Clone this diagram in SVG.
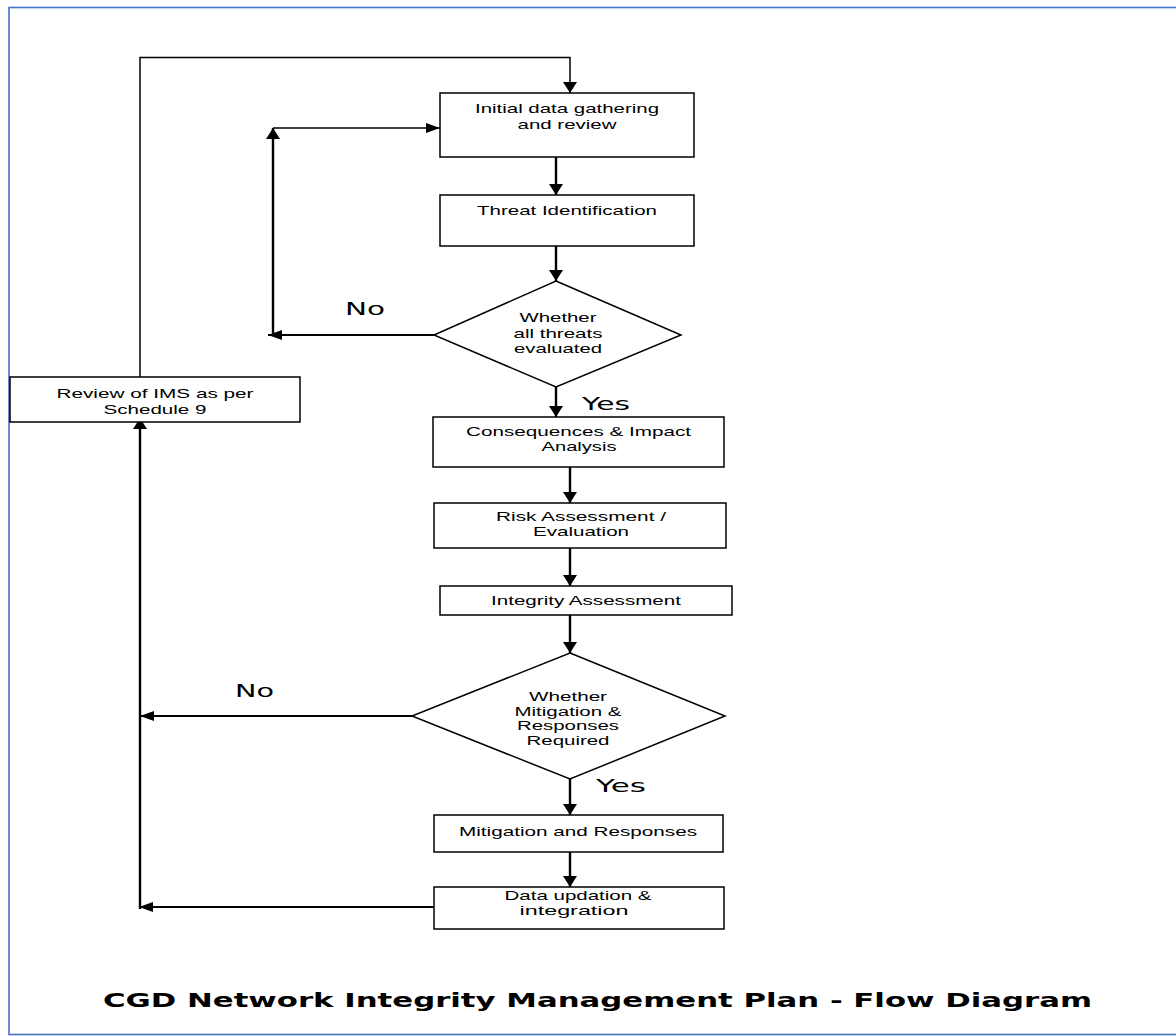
<svg xmlns="http://www.w3.org/2000/svg" width="1176" height="1036" viewBox="0 0 1176 1036">
  <style>
    .frame { fill: none; stroke: #4472C4; stroke-width: 1.6; }
    .box { fill: #ffffff; stroke: #000000; stroke-width: 1.5; }
    .lbl { font-family: "Liberation Sans", Arial, sans-serif; font-size: 13.5px; fill: #000000; text-anchor: middle; }
    .dlbl { font-family: "Liberation Sans", Arial, sans-serif; font-size: 13px; fill: #000000; text-anchor: middle; }
    .dlbl2 { font-family: "Liberation Sans", Arial, sans-serif; font-size: 12.5px; fill: #000000; text-anchor: middle; }
    .yn { font-family: "DejaVu Sans", "Liberation Sans", sans-serif; font-size: 18px; fill: #000000; }
    .title { font-family: "DejaVu Sans", "Liberation Sans", sans-serif; font-size: 19px; font-weight: bold; fill: #000000; }
    .cv { fill: none; stroke: #000000; stroke-width: 2.4; }
    .ch { fill: none; stroke: #000000; stroke-width: 1.8; }
    .thin { fill: none; stroke: #000000; stroke-width: 1.5; }
  </style>
  <defs>
    <!-- vertical arrowheads are short and wide, horizontal ones long and narrow -->
    <marker id="arrV" markerUnits="userSpaceOnUse" markerWidth="12" markerHeight="15" refX="11" refY="7" orient="auto">
      <path d="M0,0 L11,7 L0,14 z" fill="#000000"/>
    </marker>
    <marker id="arrH" markerUnits="userSpaceOnUse" markerWidth="15" markerHeight="11" refX="14" refY="5" orient="auto">
      <path d="M0,0 L14,5 L0,10 z" fill="#000000"/>
    </marker>
  </defs>

  <rect class="frame" x="9" y="7.5" width="1190" height="1027"/>

  <!-- connectors -->
  <g id="connectors">
    <path class="thin" d="M140,377 V57.5 H570 V93" marker-end="url(#arrV)"/>
    <path class="cv" d="M556,157 V195" marker-end="url(#arrV)"/>
    <path class="cv" d="M556,246 V281" marker-end="url(#arrV)"/>
    <path class="ch" d="M434,335 H268" marker-end="url(#arrH)"/>
    <path class="cv" d="M273,336 V128" marker-end="url(#arrV)"/>
    <path class="thin" d="M273,128 H440" marker-end="url(#arrH)"/>
    <path class="cv" d="M556,387 V417" marker-end="url(#arrV)"/>
    <path class="cv" d="M570,467 V503" marker-end="url(#arrV)"/>
    <path class="cv" d="M570,548 V586" marker-end="url(#arrV)"/>
    <path class="cv" d="M570,615 V653" marker-end="url(#arrV)"/>
    <path class="ch" d="M412,716 H140" marker-end="url(#arrH)"/>
    <path class="cv" d="M570,779 V815" marker-end="url(#arrV)"/>
    <path class="cv" d="M570,852 V887" marker-end="url(#arrV)"/>
    <path class="ch" d="M434,907 H139" marker-end="url(#arrH)"/>
    <path class="cv" d="M140,909 V418" marker-end="url(#arrV)"/>
    <text class="yn" x="345" y="315" textLength="40" lengthAdjust="spacingAndGlyphs">No</text>
    <text class="yn" x="582" y="410" textLength="48" lengthAdjust="spacingAndGlyphs">Yes</text>
    <text class="yn" x="235" y="697" textLength="39" lengthAdjust="spacingAndGlyphs">No</text>
    <text class="yn" x="596" y="792" textLength="50" lengthAdjust="spacingAndGlyphs">Yes</text>
  </g>

  <g id="initial-data">
    <rect class="box" x="440" y="93" width="254" height="64"/>
    <text class="lbl" x="567" y="113" textLength="184" lengthAdjust="spacingAndGlyphs">Initial data gathering</text>
    <text class="lbl" x="567" y="128.5" textLength="99" lengthAdjust="spacingAndGlyphs">and review</text>
  </g>

  <g id="threat-identification">
    <rect class="box" x="440" y="195" width="254" height="51"/>
    <text class="lbl" x="567" y="215" textLength="180" lengthAdjust="spacingAndGlyphs">Threat Identification</text>
  </g>

  <g id="threats-evaluated">
    <polygon class="box" points="556,281 681,335 556,387 434,335"/>
    <text class="dlbl" x="558" y="322" textLength="77" lengthAdjust="spacingAndGlyphs">Whether</text>
    <text class="dlbl" x="558" y="337.5" textLength="89" lengthAdjust="spacingAndGlyphs">all threats</text>
    <text class="dlbl" x="558" y="353" textLength="88" lengthAdjust="spacingAndGlyphs">evaluated</text>
  </g>

  <g id="review-ims">
    <rect class="box" x="10" y="377" width="290" height="45"/>
    <text class="lbl" x="155" y="398" textLength="197" lengthAdjust="spacingAndGlyphs">Review of IMS as per</text>
    <text class="lbl" x="155" y="413.5" textLength="103" lengthAdjust="spacingAndGlyphs">Schedule 9</text>
  </g>

  <g id="consequences">
    <rect class="box" x="433" y="417" width="291" height="50"/>
    <text class="lbl" x="578.5" y="435.5" textLength="225" lengthAdjust="spacingAndGlyphs">Consequences &amp; Impact</text>
    <text class="lbl" x="579" y="451" textLength="75" lengthAdjust="spacingAndGlyphs">Analysis</text>
  </g>

  <g id="risk-assessment">
    <rect class="box" x="434" y="503" width="292" height="45"/>
    <text class="lbl" x="581" y="520.5" textLength="170" lengthAdjust="spacingAndGlyphs">Risk Assessment /</text>
    <text class="lbl" x="581" y="536" textLength="96" lengthAdjust="spacingAndGlyphs">Evaluation</text>
  </g>

  <g id="integrity-assessment">
    <rect class="box" x="440" y="586" width="292" height="29"/>
    <text class="lbl" x="586" y="605" textLength="190" lengthAdjust="spacingAndGlyphs">Integrity Assessment</text>
  </g>

  <g id="mitigation-required">
    <polygon class="box" points="570,653 725,716 570,779 412,716"/>
    <text class="dlbl2" x="568" y="701" textLength="78" lengthAdjust="spacingAndGlyphs">Whether</text>
    <text class="dlbl2" x="568" y="715.5" textLength="107" lengthAdjust="spacingAndGlyphs">Mitigation &amp;</text>
    <text class="dlbl2" x="568" y="730" textLength="102" lengthAdjust="spacingAndGlyphs">Responses</text>
    <text class="dlbl2" x="568" y="744.5" textLength="83" lengthAdjust="spacingAndGlyphs">Required</text>
  </g>

  <g id="mitigation-responses">
    <rect class="box" x="434" y="815" width="289" height="37"/>
    <text class="lbl" x="578" y="836" textLength="238" lengthAdjust="spacingAndGlyphs">Mitigation and Responses</text>
  </g>

  <g id="data-updation">
    <rect class="box" x="434" y="887" width="290" height="42"/>
    <text class="lbl" x="578" y="899.5" textLength="147" lengthAdjust="spacingAndGlyphs">Data updation &amp;</text>
    <text class="lbl" x="574" y="915" textLength="109" lengthAdjust="spacingAndGlyphs">integration</text>
  </g>

  <text class="title" x="103" y="1007" textLength="989" lengthAdjust="spacingAndGlyphs">CGD Network Integrity Management Plan - Flow Diagram</text>
</svg>
